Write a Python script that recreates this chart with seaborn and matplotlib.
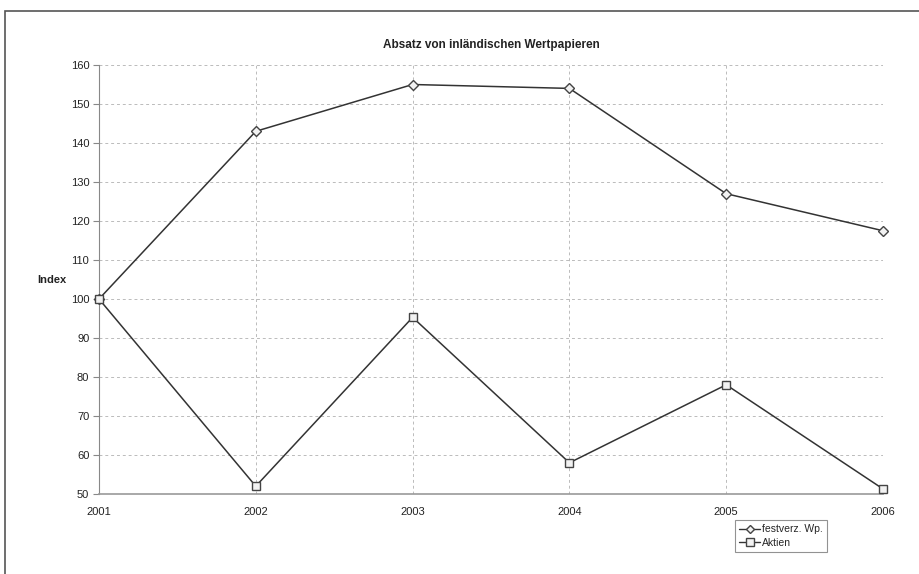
import matplotlib
matplotlib.use("Agg")
import matplotlib.pyplot as plt
from matplotlib.patches import Rectangle
from matplotlib.lines import Line2D
import seaborn as sns
import pandas as pd

years = [2001, 2002, 2003, 2004, 2005, 2006]
festverz = [100, 143, 155, 154, 127, 117.5]
aktien = [100, 52, 95.3, 58, 78, 51.3]
series_names = ["festverz. Wp.", "Aktien"]
y_ticks = [50, 60, 70, 80, 90, 100, 110, 120, 130, 140, 150, 160]

sns.set_style("white")
plt.rcParams["font.family"] = ["Liberation Sans", "DejaVu Sans"]

df = pd.DataFrame({
    "Jahr": years * 2,
    "Wert": festverz + aktien,
    "Reihe": [series_names[0]] * len(years) + [series_names[1]] * len(years),
})

fig = plt.figure(figsize=(9.19, 5.74), dpi=100)
ax = fig.add_axes([99 / 919, 1 - 494 / 574, (883 - 99) / 919, (494 - 65) / 574])

sns.lineplot(data=df, x="Jahr", y="Wert", hue="Reihe", style="Reihe",
             markers={series_names[0]: "D", series_names[1]: "s"},
             dashes=False, palette={series_names[0]: "#333333", series_names[1]: "#333333"},
             markersize=6, markerfacecolor="#f2f2f2", markeredgecolor="#444444",
             markeredgewidth=1.0, linewidth=1.1, ax=ax, legend=False)
# diamond a bit smaller than the square
ax.lines[0].set_markersize(5)
for ln in ax.lines:
    ln.set_clip_on(False)
    ln.set_zorder(5)

ax.set_xlim(2001, 2006)
ax.set_ylim(50, 160)
ax.set_xticks(years)
ax.set_yticks(y_ticks)
ax.grid(True, color="#bbbbbb", linestyle=(0, (3, 3)), linewidth=0.7)
for s in ["top", "right"]:
    ax.spines[s].set_visible(False)
ax.spines["left"].set_color("#888888")
ax.spines["bottom"].set_color("#999999")
ax.spines["bottom"].set_linewidth(1.2)
ax.tick_params(axis="y", which="both", left=True, length=4, color="#888888",
               labelsize=8, colors="#222222", pad=3)
ax.tick_params(axis="x", bottom=False, labelsize=8, colors="#222222", pad=6)
ax.set_xlabel("")
ax.set_ylabel("")

ax.set_title("Absatz von inländischen Wertpapieren", fontsize=8.5,
             fontweight="bold", color="#222222", pad=12)
fig.text(37 / 919, 1 - 280 / 574, "Index", fontsize=8, fontweight="bold",
         color="#222222", va="center", ha="left")

handles = [
    Line2D([], [], color="#333333", marker="D", markersize=4.5,
           markerfacecolor="#f2f2f2", markeredgecolor="#444444", linewidth=1.0),
    Line2D([], [], color="#333333", marker="s", markersize=5.5,
           markerfacecolor="#f2f2f2", markeredgecolor="#444444", linewidth=1.0),
]
leg = fig.legend(handles, series_names, loc="upper left",
                 bbox_to_anchor=(735 / 919, 1 - 520 / 574), fontsize=7.5,
                 frameon=True, fancybox=False, edgecolor="#777777",
                 handlelength=2.0, handletextpad=0.2, borderpad=0.4,
                 labelspacing=0.35, borderaxespad=0)
leg.get_frame().set_linewidth(0.8)

# outer chart frame
fig.patches.append(Rectangle((5 / 919, -0.05), 1.0, 1 - 11 / 574 + 0.05,
                             transform=fig.transFigure, fill=False,
                             edgecolor="#555555", linewidth=1.2))

fig.savefig("out.png", dpi=100)
